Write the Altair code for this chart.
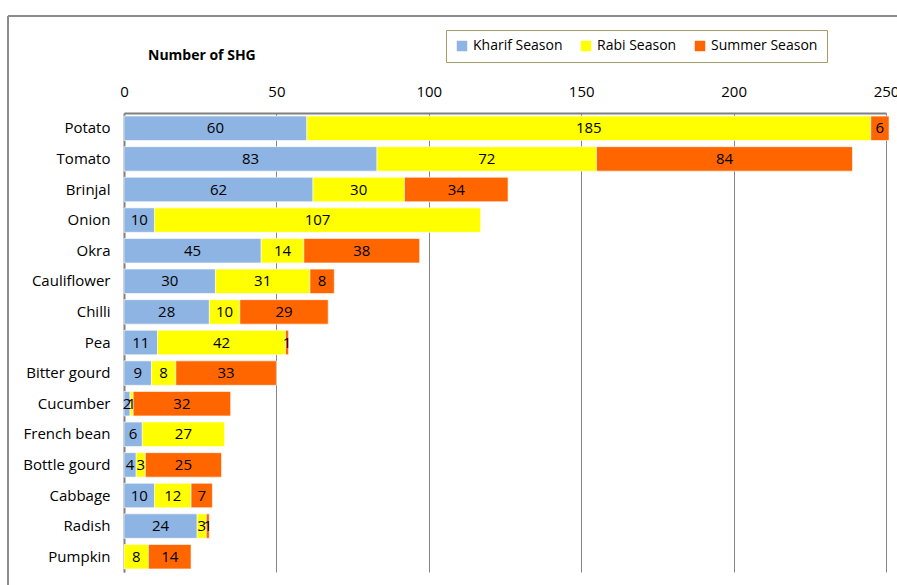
import altair as alt
import pandas as pd

crops = ["Potato", "Tomato", "Brinjal", "Onion", "Okra", "Cauliflower", "Chilli", "Pea",
         "Bitter gourd", "Cucumber", "French bean", "Bottle gourd", "Cabbage", "Radish", "Pumpkin"]
kharif = [60, 83, 62, 10, 45, 30, 28, 11, 9, 2, 6, 4, 10, 24, 0]
rabi = [185, 72, 30, 107, 14, 31, 10, 42, 8, 1, 27, 3, 12, 3, 8]
summer = [6, 84, 34, 0, 38, 8, 29, 1, 33, 32, 0, 25, 7, 1, 14]
seasons = ["Kharif Season", "Rabi Season", "Summer Season"]
colors = ["#8EB4E3", "#FFFF00", "#FF6600"]
x_ticks = [0, 50, 100, 150, 200, 250]

rows = []
for i, c in enumerate(crops):
    start = 0
    for s, vals in zip(seasons, [kharif, rabi, summer]):
        v = vals[i]
        if v > 0:
            rows.append({"crop": c, "season": s, "value": v, "start": start,
                         "end": start + v, "mid": start + v / 2})
        start += v
df = pd.DataFrame(rows)

FONT = "Open Sans"
FS = 15

xscale = alt.Scale(domain=[0, 250], nice=False, zero=True)
yenc = alt.Y("crop:N", sort=crops, title=None,
             scale=alt.Scale(paddingInner=0.2, paddingOuter=0.1),
             axis=alt.Axis(labelFontSize=FS, labelFont=FONT, labelColor="black",
                           ticks=False, labelPadding=14, domainColor="#808080",
                           domainWidth=2))

bars = alt.Chart(df).mark_bar(stroke="white", strokeWidth=0.6).encode(
    x=alt.X("start:Q", scale=xscale, title=None,
            axis=alt.Axis(orient="top", values=x_ticks, labelFontSize=FS, labelFont=FONT,
                          labelColor="black", ticks=False, labelPadding=14,
                          labelFlush=False, labelBound=False,
                          gridColor="#868686", gridWidth=1, domainColor="#808080",
                          domainWidth=2)),
    x2="end:Q",
    y=yenc,
    color=alt.Color("season:N", scale=alt.Scale(domain=seasons, range=colors), title=None,
                    legend=alt.Legend(orient="none", legendX=322, legendY=-83,
                                      direction="horizontal", symbolType="square",
                                      symbolSize=110, labelFontSize=14, labelFont=FONT,
                                      labelColor="black", strokeColor="#A89B6B",
                                      padding=9, columnPadding=16, symbolStrokeWidth=0,
                                      labelOffset=4, fillColor="white")),
)

text = alt.Chart(df).mark_text(fontSize=FS, font=FONT, color="black").encode(
    x=alt.X("mid:Q", scale=xscale),
    y=alt.Y("crop:N", sort=crops),
    text="value:Q",
)

frame_top = alt.Chart(df).mark_rule(color="#8C8C8C", strokeWidth=2).encode(
    x=alt.value(-116), x2=alt.value(800), y=alt.value(-97))
frame_left = alt.Chart(df).mark_rule(color="#8C8C8C", strokeWidth=2).encode(
    x=alt.value(-116), y=alt.value(-97), y2=alt.value(600))

chart = alt.layer(frame_top, frame_left, bars, text).properties(
    width=762, height=459,
    padding={"left": 124, "top": 113, "right": 11, "bottom": 13},
    autosize=alt.AutoSizeParams(type="none"),
    title=alt.TitleParams("Number of SHG", anchor="start", frame="group", dx=24, dy=52,
                          fontSize=14, font=FONT, fontWeight="bold", color="black"),
).configure_view(stroke=None)

chart.save("out.html", embed_options={"renderer": "svg", "actions": False})
